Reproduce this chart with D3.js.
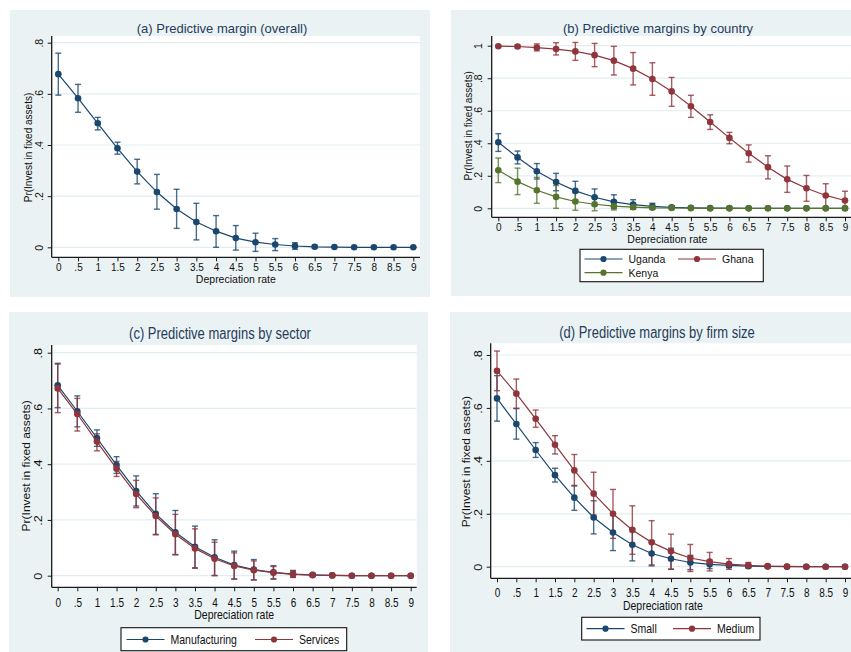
<!DOCTYPE html>
<html><head><meta charset="utf-8">
<script src="https://cdn.jsdelivr.net/npm/d3@7"></script>
<style>body{margin:0;background:#fff}svg{display:block;font-family:"Liberation Sans",Arial,sans-serif}</style>
</head><body><svg id="chart" width="851" height="652"></svg>
<script>
// ---------------- DATA ----------------
const depRate = [0,0.5,1,1.5,2,2.5,3,3.5,4,4.5,5,5.5,6,6.5,7,7.5,8,8.5,9];
const xTickLabels = ["0",".5","1","1.5","2","2.5","3","3.5","4","4.5","5","5.5","6","6.5","7","7.5","8","8.5","9"];
const yTicksA = [0,0.2,0.4,0.6,0.8];
const yTickLabelsA = ["0",".2",".4",".6",".8"];
const yTicksB = [0,0.2,0.4,0.6,0.8,1];
const yTickLabelsB = ["0",".2",".4",".6",".8","1"];

const titles = ["(a) Predictive margin (overall)","(b) Predictive margins by country","(c) Predictive margins by sector","(d) Predictive margins by firm size"];
const xAxisTitle = "Depreciation rate";
const yAxisTitle = "Pr(Invest in fixed assets)";

// (a) overall
const overallMargin = [0.677,0.583,0.485,0.387,0.296,0.216,0.150,0.099,0.063,0.036,0.020,0.011,0.005,0.002,0.001,0,0,0,0];
const overallLo     = [0.595,0.528,0.459,0.364,0.248,0.149,0.074,0.029,0.000,-0.011,-0.016,-0.013,-0.008,-0.003,-0.001,0,0,0,0];
const overallHi     = [0.759,0.637,0.508,0.411,0.344,0.285,0.227,0.172,0.124,0.085,0.055,0.034,0.018,0.007,0.002,0.001,0,0,0];

// (b) by country
const countryNames = ["Uganda","Ghana","Kenya"];
const ugandaMargin = [0.406,0.313,0.228,0.162,0.107,0.068,0.040,0.023,0.012,0.006,0.003,0.001,0.001,0,0,0,0,0,0];
const ugandaLo     = [0.350,0.273,0.180,0.108,0.050,0.016,-0.002,-0.006,-0.006,-0.004,-0.002,-0.001,0,0,0,0,0,0,0];
const ugandaHi     = [0.459,0.352,0.275,0.215,0.166,0.119,0.083,0.053,0.031,0.016,0.008,0.003,0.001,0,0,0,0,0,0];
const ghanaMargin  = [0.997,0.995,0.988,0.979,0.965,0.942,0.908,0.859,0.795,0.719,0.628,0.531,0.433,0.339,0.253,0.178,0.123,0.079,0.048];
const ghanaLo      = [0.993,0.986,0.968,0.943,0.910,0.871,0.820,0.759,0.695,0.627,0.559,0.485,0.397,0.284,0.181,0.098,0.043,0.006,-0.008];
const ghanaHi      = [1.001,1.004,1.011,1.018,1.020,1.014,0.996,0.958,0.895,0.805,0.695,0.575,0.467,0.390,0.323,0.260,0.202,0.151,0.105];
const kenyaMargin  = [0.234,0.164,0.111,0.070,0.042,0.025,0.013,0.007,0.003,0.002,0.001,0,0,0,0,0,0,0,0];
const kenyaLo      = [0.158,0.084,0.031,0.000,-0.012,-0.015,-0.010,-0.006,-0.003,-0.002,-0.001,0,0,0,0,0,0,0,0];
const kenyaHi      = [0.309,0.247,0.190,0.140,0.096,0.064,0.036,0.020,0.010,0.005,0.002,0.001,0,0,0,0,0,0,0];

// (c) by sector
const sectorNames = ["Manufacturing","Services"];
const manufMargin = [0.683,0.590,0.494,0.397,0.304,0.222,0.156,0.104,0.066,0.038,0.022,0.012,0.006,0.003,0.001,0,0,0,0];
const manufLo     = [0.603,0.534,0.464,0.367,0.250,0.148,0.076,0.028,0.001,-0.012,-0.015,-0.012,-0.006,-0.002,-0.001,0,0,0,0];
const manufHi     = [0.762,0.645,0.523,0.427,0.358,0.294,0.234,0.178,0.129,0.088,0.058,0.036,0.019,0.008,0.002,0.001,0,0,0];
const servMargin  = [0.672,0.580,0.481,0.384,0.293,0.214,0.149,0.098,0.061,0.035,0.020,0.011,0.005,0.002,0.001,0,0,0,0];
const servLo      = [0.585,0.519,0.448,0.356,0.244,0.147,0.075,0.027,0.000,-0.012,-0.015,-0.012,-0.006,-0.002,-0.001,0,0,0,0];
const servHi      = [0.759,0.636,0.509,0.410,0.342,0.279,0.220,0.168,0.120,0.082,0.053,0.033,0.017,0.007,0.002,0.001,0,0,0];

// (d) by firm size
const sizeNames = ["Small","Medium"];
const smallMargin  = [0.636,0.539,0.441,0.346,0.261,0.186,0.129,0.083,0.050,0.030,0.016,0.009,0.005,0.002,0.001,0,0,0,0];
const smallLo      = [0.550,0.482,0.413,0.320,0.213,0.124,0.061,0.022,0.003,-0.010,-0.011,-0.007,-0.003,-0.001,0,0,0,0,0];
const smallHi      = [0.722,0.598,0.469,0.372,0.307,0.249,0.196,0.143,0.097,0.070,0.043,0.025,0.013,0.005,0.002,0,0,0,0];
const mediumMargin = [0.740,0.654,0.559,0.461,0.364,0.276,0.200,0.139,0.092,0.058,0.033,0.019,0.010,0.005,0.002,0.001,0,0,0];
const mediumLo     = [0.665,0.598,0.527,0.426,0.305,0.195,0.107,0.047,0.007,-0.009,-0.018,-0.016,-0.010,-0.005,-0.002,0,0,0,0];
const mediumHi     = [0.815,0.709,0.592,0.495,0.424,0.357,0.292,0.230,0.174,0.123,0.084,0.054,0.031,0.016,0.006,0.002,0.001,0,0];

// ---------------- STYLE ----------------
const NAVY = "#1a476f", MAROON = "#90353b", GREEN = "#55752f";
const BG = "#eaf2f3", GRID = "#e3edf0", AXIS = "#1a1a1a", TITLE = "#263c5c", TEXT = "#111";

const svg = d3.select("#chart");

function stext(g, x, y, str, o) {
  const s = o.stretch || 1;
  const rot = o.rotate ? " rotate(-90)" : "";
  return g.append("text")
    .attr("transform", `translate(${x},${y}) scale(1,${s})${rot}`)
    .attr("text-anchor", o.anchor || "middle")
    .attr("dominant-baseline", "central")
    .attr("font-size", o.size)
    .attr("fill", o.fill || TEXT)
    .text(str);
}

function drawPanel(p) {
  const g = svg.append("g");
  const s = p.stretch;
  g.append("rect").attr("x", p.bg[0]).attr("y", p.bg[1]).attr("width", p.bg[2]).attr("height", p.bg[3]).attr("fill", BG);
  g.append("rect").attr("x", p.plot.l).attr("y", p.plot.t).attr("width", p.plot.r - p.plot.l).attr("height", p.plot.b - p.plot.t).attr("fill", "#fff");

  const x = d3.scaleLinear().domain([0, 9]).range(p.xr);
  const y = d3.scaleLinear().domain([0, p.yTicks[p.yTicks.length - 1]]).range(p.yr);

  g.append("g").selectAll("line").data(p.yTicks).join("line")
    .attr("x1", p.plot.l).attr("x2", p.plot.r)
    .attr("y1", d => y(d)).attr("y2", d => y(d))
    .attr("stroke", GRID).attr("stroke-width", 1.2);

  // y axis
  const gy = g.append("g").attr("transform", `translate(${p.plot.l},0)`)
    .call(d3.axisLeft(y).tickValues(p.yTicks).tickFormat((d, i) => p.yLabels[i]).tickSize(4).tickSizeOuter(0));
  gy.attr("font-family", null).attr("font-size", null);
  gy.select(".domain").remove();
  gy.selectAll(".tick line").attr("stroke", AXIS).attr("stroke-width", 1);
  gy.selectAll(".tick text").attr("x", null).attr("dy", null)
    .attr("text-anchor", "middle").attr("dominant-baseline", "central")
    .attr("font-size", 10.5).attr("fill", TEXT)
    .attr("transform", `translate(${-p.ylabOff},0) scale(1,${s}) rotate(-90)`);
  g.append("line").attr("x1", p.plot.l).attr("x2", p.plot.l).attr("y1", p.plot.t).attr("y2", p.plot.b)
    .attr("stroke", AXIS).attr("stroke-width", 1.3);

  // x axis
  const gx = g.append("g").attr("transform", `translate(0,${p.plot.b})`)
    .call(d3.axisBottom(x).tickValues(depRate).tickFormat((d, i) => xTickLabels[i]).tickSize(4).tickSizeOuter(0));
  gx.attr("font-family", null).attr("font-size", null);
  gx.select(".domain").remove();
  gx.selectAll(".tick line").attr("stroke", AXIS).attr("stroke-width", 1);
  gx.selectAll(".tick text").attr("y", null).attr("dy", null)
    .attr("dominant-baseline", "central").attr("font-size", 10).attr("fill", TEXT)
    .attr("transform", `translate(0,${p.xlabOff}) scale(1,${s})`);
  g.append("line").attr("x1", p.plot.l).attr("x2", p.plot.r).attr("y1", p.plot.b).attr("y2", p.plot.b)
    .attr("stroke", AXIS).attr("stroke-width", 1.3);

  // titles
  stext(g, p.title[0], p.title[1], p.titleText, { size: 13, stretch: s, fill: TITLE });
  stext(g, (p.plot.l + p.plot.r) / 2 + p.xTitleDx, p.plot.b + p.xTitleOff, xAxisTitle, { size: 10.5, stretch: s });
  stext(g, p.yTitle[0], p.yTitle[1], yAxisTitle, { size: 10, stretch: s, rotate: true });

  // CIs first
  p.series.forEach(se => {
    const cg = g.append("g").attr("stroke", se.color).attr("stroke-width", 1.4).attr("stroke-opacity", 0.8);
    const idx = d3.range(depRate.length);
    cg.selectAll(".v").data(idx).join("line")
      .attr("x1", i => x(depRate[i])).attr("x2", i => x(depRate[i]))
      .attr("y1", i => y(se.lo[i])).attr("y2", i => y(se.hi[i]));
    cg.selectAll(".lo").data(idx).join("line")
      .attr("x1", i => x(depRate[i]) - 3).attr("x2", i => x(depRate[i]) + 3)
      .attr("y1", i => y(se.lo[i])).attr("y2", i => y(se.lo[i]));
    cg.selectAll(".hi").data(idx).join("line")
      .attr("x1", i => x(depRate[i]) - 3).attr("x2", i => x(depRate[i]) + 3)
      .attr("y1", i => y(se.hi[i])).attr("y2", i => y(se.hi[i]));
  });
  // lines + markers
  p.series.forEach(se => {
    const line = d3.line().x((d, i) => x(depRate[i])).y(d => y(d));
    g.append("path").datum(se.m).attr("d", line).attr("fill", "none")
      .attr("stroke", se.color).attr("stroke-width", 1.2);
    g.append("g").selectAll("circle").data(se.m).join("circle")
      .attr("cx", (d, i) => x(depRate[i])).attr("cy", d => y(d)).attr("r", 3.3)
      .attr("fill", se.color);
  });

  // legend
  if (p.legend) {
    const L = p.legend;
    g.append("rect").attr("x", L.box[0]).attr("y", L.box[1]).attr("width", L.box[2]).attr("height", L.box[3])
      .attr("fill", "#fff").attr("stroke", "#111").attr("stroke-width", 1.1);
    L.items.forEach(it => {
      const se = p.series[it.si];
      g.append("line").attr("x1", it.x).attr("x2", it.x + 38).attr("y1", it.y).attr("y2", it.y)
        .attr("stroke", se.color).attr("stroke-width", 1.2);
      g.append("circle").attr("cx", it.x + 19).attr("cy", it.y).attr("r", 3.1).attr("fill", se.color);
      stext(g, it.x + 44, it.y, se.name, { size: 10.5, stretch: s, anchor: "start" });
    });
  }
}

const panels = [
  { titleText: titles[0], bg: [10, 10, 420, 287], plot: { l: 51.7, r: 420, t: 36, b: 257.3 },
    xr: [58.3, 413.3], yr: [247.3, 42.7], yTicks: yTicksA, yLabels: yTickLabelsA, stretch: 1,
    title: [222, 28], ylabOff: 12.4, xlabOff: 10.5, xTitleOff: 21.5, xTitleDx: 0, yTitle: [28.3, 147.5],
    series: [{ name: "Overall", m: overallMargin, lo: overallLo, hi: overallHi, color: NAVY }] },
  { titleText: titles[1], bg: [451, 10, 400, 286], plot: { l: 491.7, r: 851, t: 36, b: 217.3 },
    xr: [498.3, 845], yr: [208.3, 45.7], yTicks: yTicksB, yLabels: yTickLabelsB, stretch: 1,
    title: [658, 28], ylabOff: 13.4, xlabOff: 10.5, xTitleOff: 21.5, xTitleDx: -4, yTitle: [468.3, 125.8],
    series: [
      { name: countryNames[0], m: ugandaMargin, lo: ugandaLo, hi: ugandaHi, color: NAVY },
      { name: countryNames[1], m: ghanaMargin, lo: ghanaLo, hi: ghanaHi, color: MAROON },
      { name: countryNames[2], m: kenyaMargin, lo: kenyaLo, hi: kenyaHi, color: GREEN }],
    legend: { box: [580, 249.3, 183.3, 32.4], items: [{ si: 0, x: 584.5, y: 259 }, { si: 1, x: 678, y: 259 }, { si: 2, x: 584.5, y: 272.7 }] } },
  { titleText: titles[2], bg: [9, 312, 419, 340], plot: { l: 51.7, r: 416.7, t: 345, b: 587.3 },
    xr: [57.7, 410.7], yr: [575.7, 352.7], yTicks: yTicksA, yLabels: yTickLabelsA, stretch: 1.2,
    title: [220, 334], ylabOff: 13.4, xlabOff: 15.5, xTitleOff: 27.5, xTitleDx: 0, yTitle: [26.7, 465.8],
    series: [
      { name: sectorNames[0], m: manufMargin, lo: manufLo, hi: manufHi, color: NAVY },
      { name: sectorNames[1], m: servMargin, lo: servLo, hi: servHi, color: MAROON }],
    legend: { box: [121, 627.7, 225.7, 23], items: [{ si: 0, x: 126.5, y: 639.5 }, { si: 1, x: 255, y: 639.5 }] } },
  { titleText: titles[3], bg: [450, 312, 401, 340], plot: { l: 490.7, r: 851, t: 343.3, b: 578.3 },
    xr: [497, 845], yr: [566.7, 355], yTicks: yTicksA, yLabels: yTickLabelsA, stretch: 1.2,
    title: [657, 333], ylabOff: 12.4, xlabOff: 14.8, xTitleOff: 27.3, xTitleDx: -8, yTitle: [466.7, 461.7],
    series: [
      { name: sizeNames[0], m: smallMargin, lo: smallLo, hi: smallHi, color: NAVY },
      { name: sizeNames[1], m: mediumMargin, lo: mediumLo, hi: mediumHi, color: MAROON }],
    legend: { box: [581.7, 617.3, 178.3, 22.7], items: [{ si: 0, x: 586.5, y: 628.7 }, { si: 1, x: 673, y: 628.7 }] } }
];

panels.forEach(drawPanel);
</script></body></html>
